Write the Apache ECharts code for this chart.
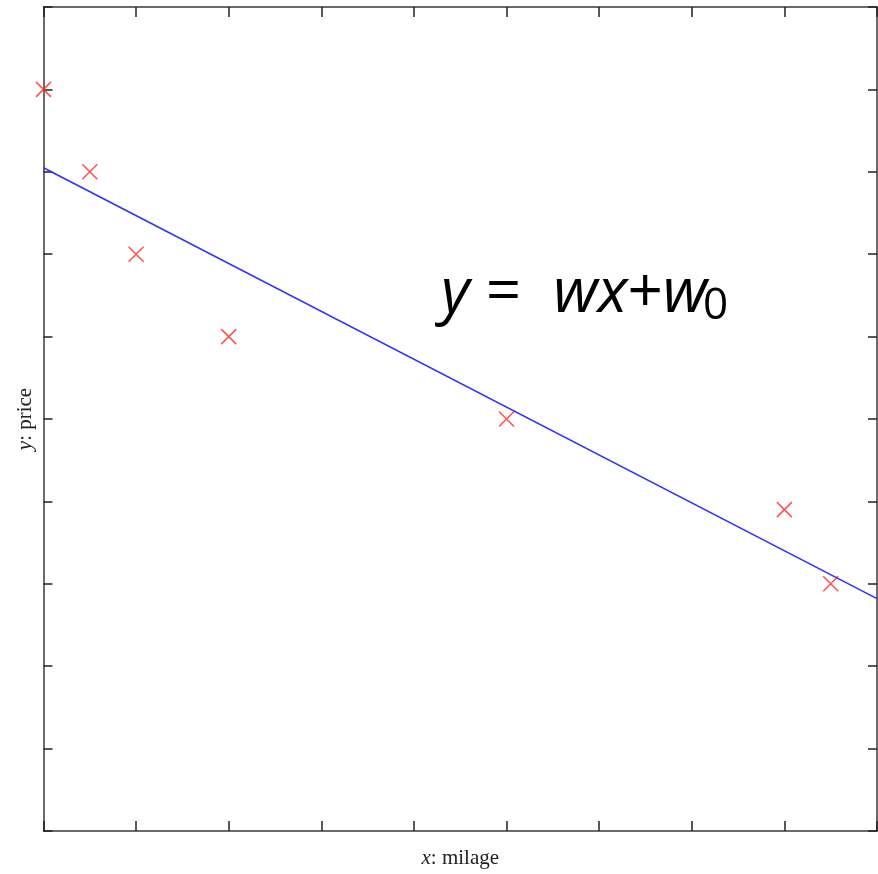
<!DOCTYPE html>
<html>
<head>
<meta charset="utf-8">
<script src="https://cdn.jsdelivr.net/npm/echarts@6/dist/echarts.min.js"></script>
<style>html,body{margin:0;padding:0;background:#fff}#c{width:878px;height:874px}</style>
</head>
<body>
<div id="c"></div>
<script>
// Data
const milage = [0, 0.5, 1, 2, 5, 8, 8.5];
const price = [9, 8, 7, 6, 5, 3.9, 3];
const fitX = [0, 9];
const fitY = [8.05, 2.82];
const xRange = [0, 9];
const yRange = [0, 10];

const chart = echarts.init(document.getElementById('c'), null, {renderer: 'canvas'});
const axisLineStyle = {color: '#3a3a3a', width: 1.5};
const tickStyle = {color: '#222', width: 1.5};
const serif = '"Liberation Serif", "DejaVu Serif", serif';

function xAx(pos, withName) {
  return {
    type: 'value', position: pos, min: xRange[0], max: xRange[1], interval: 1,
    axisLine: {show: true, onZero: false, lineStyle: axisLineStyle},
    axisTick: {show: true, inside: true, length: 10, lineStyle: tickStyle},
    axisLabel: {show: false}, splitLine: {show: false},
    name: withName ? '{i|x}: milage' : '',
    nameLocation: 'middle', nameGap: 17,
    nameTextStyle: {fontFamily: serif, fontSize: 21, color: '#222',
      rich: {i: {fontFamily: serif, fontStyle: 'italic', fontSize: 21, color: '#222'}}}
  };
}
function yAx(pos, withName) {
  return {
    type: 'value', position: pos, min: yRange[0], max: yRange[1], interval: 1,
    axisLine: {show: true, onZero: false, lineStyle: axisLineStyle},
    axisTick: {show: true, inside: true, length: 9, lineStyle: tickStyle},
    axisLabel: {show: false}, splitLine: {show: false},
    name: withName ? '{i|y}: price' : '',
    nameLocation: 'middle', nameGap: 8, nameRotate: 90,
    nameTextStyle: {fontFamily: serif, fontSize: 21, color: '#222',
      rich: {i: {fontFamily: serif, fontStyle: 'italic', fontSize: 21, color: '#222'}}}
  };
}

const sans = '"Open Sans", "Noto Sans", sans-serif';
chart.setOption({
  animation: false,
  backgroundColor: '#fff',
  grid: {left: 43.5, top: 7, right: 1, bottom: 42, containLabel: false},
  xAxis: [xAx('bottom', true), xAx('top', false)],
  yAxis: [yAx('left', true), yAx('right', false)],
  series: [
    {
      type: 'line', xAxisIndex: 0, yAxisIndex: 0,
      data: fitX.map((x, i) => [x, fitY[i]]),
      showSymbol: false, clip: true,
      lineStyle: {color: '#3030ff', width: 1.6}
    },
    {
      type: 'scatter', xAxisIndex: 0, yAxisIndex: 0,
      data: milage.map((x, i) => [x, price[i]]),
      symbol: 'path://M0,0L1,1M1,0L0,1', symbolSize: 15, clip: false,
      itemStyle: {color: 'rgba(0,0,0,0)', borderColor: '#ff2a2a', borderWidth: 1.6}
    }
  ],
  graphic: [
    {
      type: 'text', left: 441, top: 263, z: 10,
      style: {
        text: '{i|y}{n| =  }{i|wx}{n|+}{i|w}',
        rich: {
          i: {fontFamily: sans, fontStyle: 'italic', fontSize: 62, fill: '#000'},
          n: {fontFamily: sans, fontSize: 62, fill: '#000'}
        }
      }
    },
    {
      type: 'text', left: 703, top: 284, z: 10,
      style: {text: '0', fontFamily: sans, fontSize: 44, fill: '#000'}
    }
  ]
});
</script>
</body>
</html>
